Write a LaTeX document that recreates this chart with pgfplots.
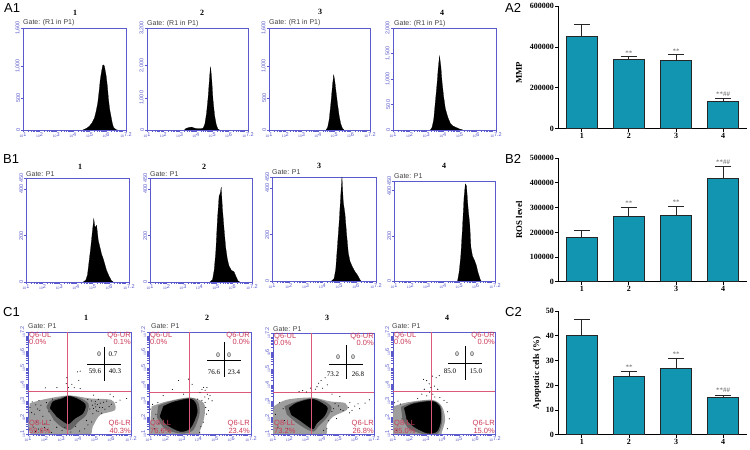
\documentclass[border=0pt]{standalone}
\usepackage{fontspec}
\setmainfont{Liberation Serif}
\newfontfamily\sansf{Liberation Sans}
\usepackage{pgfplots}
\pgfplotsset{compat=1.18}
\definecolor{facsblue}{HTML}{5A5ACC}
\definecolor{qred}{HTML}{CC3A58}
\definecolor{qline}{HTML}{DB5A78}
\definecolor{barteal}{HTML}{1295B0}
\newcommand\fs[1]{\fontsize{#1}{#1}\selectfont}
\newcommand\dec[1]{{\fs{3.4}10}\raisebox{1pt}{#1}}
\newcommand\pg[2]{({(#1)*1pt},{450pt-(#2)*1pt})}
\pgfplotsset{
 facsbase/.style={scale only axis,anchor=south west,clip=true,
  xmin=1,xmax=7.2,axis line style={facsblue,line width=0.7pt},
  tick style={facsblue,line width=0.5pt},tick align=outside,
  major tick length=2.2pt,minor tick length=1.8pt,
  xtick={1,2,3,4,5,6,7.2},
  xticklabels={\dec1,\dec2,\dec3,\dec4,\dec5,\dec6,\dec{7.2}},
  minor xtick={1.30,1.48,1.60,1.70,1.78,1.85,1.90,1.95,2.30,2.48,2.60,2.70,2.78,2.85,2.90,2.95,3.30,3.48,3.60,3.70,3.78,3.85,3.90,3.95,4.30,4.48,4.60,4.70,4.78,4.85,4.90,4.95,5.30,5.48,5.60,5.70,5.78,5.85,5.90,5.95,6.30,6.48,6.60,6.70,6.78,6.85,6.90,6.95},
  xticklabel style={font=\sansf\fs{5.5},text=facsblue,inner sep=0.5pt,yshift=0.5pt},
  yticklabel style={font=\sansf\fs{5.5},text=facsblue,rotate=90,anchor=south,inner sep=0.5pt},
  xtick pos=bottom,ytick pos=left},
 hist/.style={facsbase,ymin=0},
 dot/.style={facsbase,ymin=1,ymax=7.2,
  ytick={1,2,3,4,5,6,7.2},
  yticklabels={\dec1,\dec2,\dec3,\dec4,\dec5,\dec6,\dec{7.2}},
  minor ytick={1.30,1.48,1.60,1.70,1.78,1.85,1.90,1.95,2.30,2.48,2.60,2.70,2.78,2.85,2.90,2.95,3.30,3.48,3.60,3.70,3.78,3.85,3.90,3.95,4.30,4.48,4.60,4.70,4.78,4.85,4.90,4.95,5.30,5.48,5.60,5.70,5.78,5.85,5.90,5.95,6.30,6.48,6.60,6.70,6.78,6.85,6.90,6.95}},
 barax/.style={scale only axis,anchor=south west,clip=false,ymin=0,
  xmin=0.49,xmax=4.51,width=189pt,axis lines=left,scaled y ticks=false,
  axis line style={-,black,line width=1pt},
  tick style={black,line width=1pt},tick align=outside,major tick length=3pt,
  xtick={1,2,3,4},xticklabels={1,2,3,4},
  ticklabel style={font=\bfseries\fs{8},inner sep=1pt},
  minor tick num=0},
 barplot/.style={ybar,bar width=31pt,fill=barteal,draw=black!85,line width=1pt,
  error bars/.cd,y dir=plus,y explicit,
  error bar style={black!85,line width=1pt},
  error mark options={rotate=90,mark size=8pt,line width=1pt,black!85}},
 hst/.style={fill=black,draw=black,line width=0.2pt},
 halo/.style={smooth,tension=0.5,fill=black!38,draw=none},
 midd/.style={smooth,tension=0.5,fill=black!60,draw=none},
 core/.style={smooth,tension=0.5,fill=black,draw=black,line width=0.4pt},
 dts/.style={only marks,mark=*,mark size=0.24pt,mark options={draw=none,fill=black!85}},
 qln/.style={qline,line width=0.7pt}
}
\newcommand\quads[8]{%
 \node[anchor=west,text=qred,font=\sansf\fs{7.5},inner sep=0pt] at \pg{#1}{#3+4}{Q6-UL};
 \node[anchor=west,text=qred,font=\sansf\fs{7.5},inner sep=0pt] at \pg{#1}{#3+10}{#5\%};
 \node[anchor=east,text=qred,font=\sansf\fs{7.5},inner sep=0pt] at \pg{#2}{#3+4}{Q6-UR};
 \node[anchor=east,text=qred,font=\sansf\fs{7.5},inner sep=0pt] at \pg{#2}{#3+10}{#6\%};
 \node[anchor=west,text=qred,font=\sansf\fs{7.5},inner sep=0pt] at \pg{#1}{#4-10}{Q8-LL};
 \node[anchor=west,text=qred,font=\sansf\fs{7.5},inner sep=0pt] at \pg{#1}{#4-3.5}{#7\%};
 \node[anchor=east,text=qred,font=\sansf\fs{7.5},inner sep=0pt] at \pg{#2}{#4-10}{Q6-LR};
 \node[anchor=east,text=qred,font=\sansf\fs{7.5},inner sep=0pt] at \pg{#2}{#4-3.5}{#8\%};
}
\newcommand\gate[3]{\node[anchor=west,font=\sansf\fs{7},text=black!75,inner sep=0pt] at \pg{#1}{#2}{#3};}
\newcommand\ttl[3]{\node[font=\bfseries\fs{8}] at \pg{#1}{#2}{#3};}
\newcommand\plab[3]{\node[anchor=west,font=\sansf\fs{13},inner sep=0pt] at \pg{#1}{#2}{#3};}
\newcommand\num[3]{\node[font=\fs{7},inner sep=0pt] at \pg{#1}{#2}{#3};}
\newcommand\crs[4]{\draw[black,line width=0.7pt] \pg{#1-17}{#2} -- \pg{#1+17}{#2} \pg{#1}{#3} -- \pg{#1}{#4};}
\begin{document}
\begin{tikzpicture}
\path[use as bounding box] (0,0) rectangle (750pt,450pt);
% A1
\begin{axis}[hist,at={(23pt,320pt)},width=103pt,height=102pt,ymax=1590,ytick={0,500,1000,1590},yticklabels={0,500,{1,000},{1,600}}]
\addplot[hst] coordinates {(4.6,0)(4.7,10)(4.85,30)(5.0,60)(5.15,110)(5.3,185)(5.4,290)(5.5,420)(5.58,600)(5.65,780)(5.72,900)(5.8,1010)(5.85,1015)(5.9,995)(6.0,855)(6.08,680)(6.15,470)(6.22,320)(6.3,210)(6.38,100)(6.45,40)(6.6,5)(6.7,0)} \closedcycle;
\end{axis}
\begin{axis}[hist,at={(147pt,320pt)},width=101pt,height=102pt,ymax=3170,ytick={0,1000,2000,3170},yticklabels={0,{1,000},{2,000},{3,200}}]
\addplot[hst] coordinates {(3.3,0)(3.4,50)(3.6,80)(3.75,90)(3.9,60)(4.1,40)(4.3,40)(4.45,60)(4.55,180)(4.65,500)(4.75,1000)(4.85,1700)(4.9,1970)(4.97,1600)(5.05,950)(5.15,450)(5.25,170)(5.35,30)(5.45,0)} \closedcycle;
\end{axis}
\begin{axis}[hist,at={(269pt,320pt)},width=101pt,height=102pt,ymax=1590,ytick={0,500,1000,1590},yticklabels={0,500,{1,000},{1,600}}]
\addplot[hst] coordinates {(4.5,0)(4.6,40)(4.7,170)(4.8,420)(4.9,700)(4.97,860)(5.03,780)(5.1,630)(5.2,420)(5.3,230)(5.4,100)(5.5,30)(5.6,0)} \closedcycle;
\end{axis}
\begin{axis}[hist,at={(393pt,320pt)},width=103pt,height=102pt,ymax=2000,ytick={0,500,1000,1500,2000},yticklabels={0,500,{1,000},{1,500},{2,000}}]
\addplot[hst] coordinates {(3.25,0)(3.35,50)(3.45,200)(3.55,550)(3.65,900)(3.72,1200)(3.8,1450)(3.88,1250)(3.95,950)(4.05,650)(4.15,420)(4.3,250)(4.45,130)(4.6,80)(4.8,50)(5.0,20)(5.2,0)} \closedcycle;
\end{axis}
% B1
\begin{axis}[hist,at={(26pt,168pt)},width=103pt,height=104pt,ymax=449,ytick={0,200,400,449},yticklabels={0,200,400,450}]
\addplot[hst] coordinates {(4.45,0)(4.6,8)(4.7,30)(4.8,90)(4.9,150)(5.0,220)(5.08,273)(5.15,235)(5.25,245)(5.35,180)(5.45,150)(5.55,120)(5.65,100)(5.75,75)(5.85,50)(6.0,25)(6.15,5)(6.25,0)} \closedcycle;
\end{axis}
\begin{axis}[hist,at={(150pt,168pt)},width=102pt,height=104pt,ymax=449,ytick={0,200,400,449},yticklabels={0,200,400,450}]
\addplot[hst] coordinates {(4.65,0)(4.8,10)(4.9,50)(5.0,130)(5.1,270)(5.2,370)(5.28,385)(5.33,410)(5.4,320)(5.5,230)(5.6,150)(5.7,100)(5.8,70)(5.95,50)(6.1,45)(6.25,20)(6.35,5)(6.45,0)} \closedcycle;
\end{axis}
\begin{axis}[hist,at={(272pt,169pt)},width=104pt,height=104pt,ymax=449,ytick={0,200,400,449},yticklabels={0,200,400,450}]
\addplot[hst] coordinates {(4.55,0)(4.7,10)(4.8,50)(4.9,150)(5.0,250)(5.1,370)(5.17,450)(5.25,340)(5.35,290)(5.45,200)(5.55,120)(5.65,85)(5.8,60)(5.95,40)(6.1,25)(6.25,5)(6.3,0)} \closedcycle;
\end{axis}
\begin{axis}[hist,at={(394pt,169pt)},width=101pt,height=100pt,ymax=443,ytick={0,200,400,443},yticklabels={0,200,400,450}]
\addplot[hst] coordinates {(4.9,0)(5.0,40)(5.1,110)(5.2,230)(5.3,370)(5.38,430)(5.45,420)(5.55,320)(5.65,250)(5.72,150)(5.82,110)(5.95,90)(6.05,70)(6.15,40)(6.3,5)(6.35,0)} \closedcycle;
\end{axis}
% C1
\begin{axis}[dot,at={(28pt,16pt)},width=103pt,height=102pt]
\addplot[halo] coordinates {(1.1,2.86)(1.94,3.1)(3.44,3.34)(4.74,3.16)(6.04,3.06)(6.24,2.46)(5.34,2.16)(4.9,1.46)(4.5,0.8)(1.4,0.8)(1.04,1.86)} --cycle;
\addplot[midd] coordinates {(2.1,2.65)(2.35,3.02)(3.0,3.22)(3.44,3.34)(4.15,3.18)(4.65,2.82)(4.5,2.15)(4.05,1.75)(3.55,1.25)(3.05,1.4)(2.55,1.85)} --cycle;
\addplot[core] coordinates {(2.34,2.56)(2.5,2.96)(3.04,3.14)(3.44,3.3)(4.04,3.1)(4.46,2.76)(4.3,2.26)(3.84,1.96)(3.44,1.62)(3.14,1.76)(2.74,2.06)} --cycle;
\addplot[dts] coordinates {(4.14,4.82)(3.98,4.78)(3.34,4.42)(3.3,4.06)(3.64,4.02)(4.06,4.26)(3.78,3.82)(2.74,3.82)(2.04,3.8)(3.44,3.82)(4.14,3.76)(5.94,3.42)(6.94,3.16)(6.14,3.26)(6.54,3.06)(4.94,3.36)(1.12,2.62)(1.25,2.95)(1.31,1.42)(1.38,2.21)(1.47,2.77)(1.52,1.73)(1.66,3.03)(1.71,2.44)(1.83,1.19)(1.9,2.08)(2.02,1.61)(2.11,2.91)(2.18,1.27)(2.26,2.35)(2.33,1.84)(2.41,1.09)(2.47,3.12)(4.6,3.09)(4.72,2.52)(4.83,3.01)(4.91,2.23)(5.04,2.83)(5.12,2.41)(5.23,3.11)(5.31,2.62)(5.42,2.27)(5.55,2.93)(5.63,2.51)(5.74,3.0)(5.88,2.66)(6.02,2.81)(6.3,2.92)(4.52,1.82)(4.61,1.55)(4.42,1.31)(4.81,1.73)(3.05,1.22)(3.22,1.41)(3.58,1.12)(3.87,1.47)(4.11,1.18)(2.73,1.41)(4.95,2.55)(5.08,2.65)(5.18,2.78)(5.22,2.38)(5.35,2.88)(5.48,2.61)(5.05,2.98)(4.88,2.75)(1.22,2.3)(1.58,2.52)(1.78,2.75)(1.62,1.3)(1.45,1.15)(2.0,1.4)}
;
\addplot[qln] coordinates {(3.34,1)(3.34,7.2)};
\addplot[qln] coordinates {(1,3.6)(7.2,3.6)};
\end{axis}
\begin{axis}[dot,at={(149pt,16pt)},width=102pt,height=102pt]
\addplot[halo] coordinates {(1.16,2.68)(2.08,2.98)(3.51,3.22)(4.33,2.88)(4.37,2.07)(4.1,1.2)(3.85,0.8)(1.0,0.8)} --cycle;
\addplot[midd] coordinates {(1.55,2.72)(2.35,3.0)(3.5,3.2)(3.98,2.95)(4.07,2.22)(3.7,1.25)(3.0,1.02)(1.98,1.3)(1.48,2.02)} --cycle;
\addplot[core] coordinates {(1.88,2.68)(2.49,2.94)(3.47,3.14)(3.82,2.88)(3.92,2.27)(3.51,1.36)(2.9,1.16)(2.08,1.57)(1.67,2.07)} --cycle;
\addplot[dts] coordinates {(2.8,4.25)(3.4,4.33)(3.62,4.02)(4.32,3.83)(4.22,3.71)(4.41,3.66)(4.52,3.82)(4.1,3.52)(4.55,3.42)(4.71,3.33)(4.83,3.02)(4.62,3.14)(4.4,3.25)(2.42,3.71)(1.86,3.33)(3.1,3.42)(1.08,2.51)(1.22,2.8)(1.33,1.31)(1.42,2.2)(1.54,2.91)(1.6,1.62)(1.28,1.92)(4.45,2.61)(4.5,2.21)(4.31,1.72)(4.15,1.44)(4.41,2.92)(4.22,3.05)(3.95,3.12)(1.75,1.22)(2.21,1.13)(4.62,2.42)(4.08,1.1)}
;
\addplot[qln] coordinates {(3.46,1)(3.46,7.2)};
\addplot[qln] coordinates {(1,3.55)(7.2,3.55)};
\end{axis}
\begin{axis}[dot,at={(273pt,16pt)},width=101pt,height=101pt]
\addplot[halo] coordinates {(1.04,2.69)(1.82,3.1)(3.37,3.24)(4.51,3.0)(5.43,2.9)(5.54,2.49)(4.71,2.08)(4.3,1.57)(4.05,0.8)(0.9,0.8)} --cycle;
\addplot[midd] coordinates {(1.7,2.7)(2.4,2.98)(3.37,3.2)(4.15,3.0)(4.6,2.62)(4.32,2.02)(3.82,1.5)(3.5,1.15)(3.05,1.3)(2.4,1.72)(1.85,2.2)} --cycle;
\addplot[core] coordinates {(1.99,2.59)(2.44,2.9)(3.37,3.14)(3.99,2.9)(4.34,2.59)(4.13,2.08)(3.68,1.67)(3.47,1.31)(3.16,1.47)(2.65,1.84)(2.13,2.18)} --cycle;
\addplot[dts] coordinates {(3.7,3.9)(3.8,4.12)(3.95,4.28)(4.2,4.45)(3.6,3.75)(4.33,4.02)(2.6,3.62)(2.82,3.66)(3.05,3.58)(3.3,3.82)(4.05,3.81)(4.62,3.45)(5.1,3.3)(5.72,2.92)(6.02,2.71)(6.32,2.55)(6.65,2.9)(6.92,3.1)(5.85,2.45)(6.22,2.85)(5.3,2.44)(5.62,2.62)(5.7,2.3)(4.9,1.95)(4.72,2.55)(5.02,2.72)(5.15,2.51)(4.81,2.88)(4.62,2.38)(4.4,1.81)(4.31,1.32)(4.11,1.22)(1.15,2.21)(1.41,2.92)(1.62,2.55)(1.71,1.82)(1.3,1.42)(1.9,1.33)}
;
\addplot[qln] coordinates {(3.35,1)(3.35,7.2)};
\addplot[qln] coordinates {(1,3.54)(7.2,3.54)};
\end{axis}
\begin{axis}[dot,at={(393pt,16pt)},width=102pt,height=102pt]
\addplot[halo] coordinates {(1.04,2.68)(1.85,2.92)(3.36,3.08)(3.97,2.68)(4.17,1.87)(3.95,1.06)(3.85,0.8)(0.9,0.8)} --cycle;
\addplot[midd] coordinates {(1.48,2.65)(2.2,2.92)(3.36,3.04)(3.9,2.7)(4.0,1.86)(3.75,1.05)(3.0,0.95)(2.0,1.3)(1.58,1.9)} --cycle;
\addplot[core] coordinates {(1.69,2.58)(2.25,2.84)(3.36,2.98)(3.83,2.68)(3.91,1.87)(3.67,1.16)(3.06,1.06)(2.25,1.46)(1.85,1.87)} --cycle;
\addplot[dts] coordinates {(2.85,4.32)(3.05,4.25)(3.2,4.05)(3.4,4.52)(3.62,4.42)(3.81,4.55)(3.3,3.83)(2.9,3.72)(3.52,3.91)(3.72,3.72)(2.75,3.42)(3.05,3.32)(3.22,3.55)(3.55,3.25)(3.42,3.42)(2.5,3.15)(4.28,2.92)(4.32,2.35)(4.42,1.92)(4.3,1.32)(4.1,3.05)(3.85,3.22)(1.1,2.9)(1.3,3.0)(1.22,1.22)(1.45,2.82)(1.55,1.92)}
;
\addplot[qln] coordinates {(3.34,1)(3.34,7.2)};
\addplot[qln] coordinates {(1,3.6)(7.2,3.6)};
\end{axis}
% bars
\begin{axis}[barax,at={(558pt,321pt)},height=123pt,ymax=600000,ytick={0,200000,400000,600000},yticklabels={0,200000,400000,600000}]
\addplot[barplot] coordinates {(1,452000) +- (0,57000) (2,339000) +- (0,13000) (3,335000) +- (0,29000) (4,136000) +- (0,13000)};
\node[font=\fs{7},text=black!60] at (axis cs:2,372000) {**};
\node[font=\fs{7},text=black!60] at (axis cs:3,380000) {**};
\node[font=\fs{7},text=black!60] at (axis cs:4,171000) {**\#\#};
\end{axis}
\begin{axis}[barax,at={(558pt,168pt)},height=124pt,ymax=500000,ytick={0,100000,200000,300000,400000,500000},yticklabels={0,100000,200000,300000,400000,500000}]
\addplot[barplot] coordinates {(1,180000) +- (0,27000) (2,265000) +- (0,35000) (3,270000) +- (0,36000) (4,418000) +- (0,46000)};
\node[font=\fs{7},text=black!60] at (axis cs:2,317000) {**};
\node[font=\fs{7},text=black!60] at (axis cs:3,323000) {**};
\node[font=\fs{7},text=black!60] at (axis cs:4,485000) {**\#\#};
\end{axis}
\begin{axis}[barax,at={(558pt,15pt)},height=124pt,ymax=50,ytick={0,10,20,30,40,50},yticklabels={0,10,20,30,40,50}]
\addplot[barplot] coordinates {(1,40.3) +- (0,6.2) (2,23.4) +- (0,2.4) (3,26.8) +- (0,4.1) (4,15.0) +- (0,1.1)};
\node[font=\fs{7},text=black!60] at (axis cs:2,27.5) {**};
\node[font=\fs{7},text=black!60] at (axis cs:3,32.4) {**};
\node[font=\fs{7},text=black!60] at (axis cs:4,18.2) {**\#\#};
\end{axis}
% axis names
\node[rotate=90,font=\bfseries\fs{8.8}] at \pg{519}{73}{MMP};
\node[rotate=90,font=\bfseries\fs{8.8}] at \pg{519}{220}{ROS level};
\node[rotate=90,font=\bfseries\fs{8.8}] at \pg{537}{373}{Apoptotic cells (\%)};
% panel letters
\plab{4}{8}{A1}\plab{3}{159}{B1}\plab{3}{312}{C1}\plab{505}{8}{A2}\plab{505}{159}{B2}\plab{505}{312}{C2}
% titles
\ttl{75}{13}{1}\ttl{202}{13}{2}\ttl{320}{12}{3}\ttl{442}{13}{4}
\ttl{80}{167}{1}\ttl{204}{167}{2}\ttl{319}{166}{3}\ttl{444}{166}{4}
\ttl{86}{318}{1}\ttl{207}{318}{2}\ttl{327}{318}{3}\ttl{447}{318}{4}
% gates
\gate{23}{23}{Gate: (R1 in P1)}\gate{147}{24}{Gate: (R1 in P1)}\gate{269}{23}{Gate: (R1 in P1)}\gate{394}{24}{Gate: (R1 in P1)}
\gate{26}{174}{Gate: P1}\gate{150}{174}{Gate: P1}\gate{272}{172}{Gate: P1}\gate{394}{176}{Gate: P1}
\gate{28}{326}{Gate: P1}\gate{151}{326}{Gate: P1}\gate{273}{329}{Gate: P1}\gate{392}{326}{Gate: P1}
% quadrant labels
\quads{29}{131}{332}{434}{0.0}{0.1}{59.6}{40.3}
\quads{150}{250}{332}{434}{0.0}{0.0}{76.6}{23.4}
\quads{274}{374}{333}{434}{0.0}{0.0}{73.2}{26.8}
\quads{394}{495}{332}{434}{0.0}{0.0}{85.0}{15.0}
% inset crosses
\crs{104}{364}{347}{381}
\num{99}{354}{0}\num{113}{354}{0.7}\num{95}{371}{59.6}\num{115}{371}{40.3}
\crs{224}{360}{342}{377}
\num{218}{355}{0}\num{229}{355}{0}\num{214}{372}{76.6}\num{234}{372}{23.4}
\crs{346}{364}{345}{379}
\num{338}{357}{0}\num{353}{357}{0}\num{333}{374}{73.2}\num{358}{374}{26.8}
\crs{465}{363}{346}{380}
\num{457}{354}{0}\num{472}{354}{0}\num{450}{371}{85.0}\num{476}{371}{15.0}
\end{tikzpicture}
\end{document}
